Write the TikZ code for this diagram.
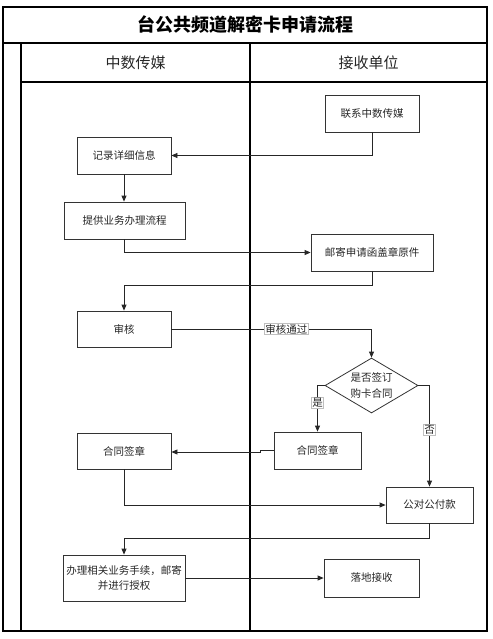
\documentclass[tikz,border=0pt]{standalone}
\usepackage{fontspec}
\setmainfont{Noto Sans CJK SC}
\usetikzlibrary{arrows.meta,shapes.geometric}
\begin{document}
\begin{tikzpicture}[x=1pt,y=-1pt,
  lane/.style={draw=black,line width=1.1pt},
  box/.style={draw=black!80,line width=0.8pt,rectangle,inner sep=1pt,align=center,
    font=\fontsize{10.5}{15.5}\selectfont,text=black!85},
  dec/.style={draw=black!80,line width=0.8pt,diamond,aspect=1.7,inner sep=0pt,align=center,
    font=\fontsize{10.5}{16}\selectfont,text=black!85},
  arr/.style={draw=black!85,line width=0.8pt,-{Triangle[length=6pt,width=5pt]}},
  lbl/.style={fill=white,draw=black!25,line width=0.4pt,inner sep=0.8pt,
    font=\fontsize{10.5}{12}\selectfont,text=black!85},
  head/.style={font=\fontsize{15}{18}\selectfont,text=black!85},
]
\useasboundingbox (0,0) rectangle (492,639);
% frame and lanes
\draw[lane] (3,7) rectangle (487,631);
\draw[lane] (3,43) -- (487,43);
\draw[lane] (21,43) -- (21,631);
\draw[lane] (21,82) -- (487,82);
\draw[lane] (250,43) -- (250,631);
\node[font=\fontsize{18}{20}\selectfont\bfseries] (title) at (245,25) {台公共频道解密卡申请流程};
\node[head] (h1) at (135.5,62.5) {中数传媒};
\node[head] (h2) at (368.5,62.5) {接收单位};
% boxes
\node[box,minimum width=94pt,minimum height=37pt] (lx) at (372,113.5) {联系中数传媒};
\node[box,minimum width=94pt,minimum height=37pt] (jl) at (124,155.5) {记录详细信息};
\node[box,minimum width=121pt,minimum height=37pt] (tg) at (124.5,220.5) {提供业务办理流程};
\node[box,minimum width=122pt,minimum height=37pt] (yj) at (372,252.5) {邮寄申请函盖章原件};
\node[box,minimum width=94pt,minimum height=36pt] (sh) at (124,329) {审核};
\node[dec,minimum width=93pt,minimum height=55pt] (dia) at (371.5,385.5) {是否签订\\购卡合同};
\node[box,minimum width=87pt,minimum height=37pt] (rsig) at (317.5,450.5) {合同签章};
\node[box,minimum width=94pt,minimum height=36pt] (lsig) at (124,451) {合同签章};
\node[box,minimum width=87pt,minimum height=36pt] (gd) at (429.5,505) {公对公付款};
\node[box,minimum width=122pt,minimum height=46pt] (bl) at (124,578) {办理相关业务手续，邮寄\\并进行授权};
\node[box,minimum width=95pt,minimum height=38pt] (ld) at (371.5,578) {落地接收};
% connectors
\draw[arr] (lx.south) |- (jl.east);
\draw[arr] (jl.south) -- (jl.south |- tg.north);
\draw[arr] (tg.south) |- (yj.west);
\draw[arr] (yj.south) -- ++(0,14) -| (sh.north);
\draw[arr] (sh.east) -| node[lbl,pos=0.287] (lpass) {审核通过} (dia.north);
\draw[arr] (dia.west) -| node[lbl,pos=0.69] (lyes) {是} (rsig.north);
\draw[arr] (dia.east) -| node[lbl,pos=0.72] (lno) {否} (gd.north);
\draw[arr] (rsig.west) -- ++(-13,0) |- ([yshift=-1pt]lsig.east);
\draw[arr] (lsig.south) |- (gd.west);
\draw[arr] (gd.south) -- ++(0,15) -| (bl.north);
\draw[arr] (bl.east) -- (ld.west);
\end{tikzpicture}
\end{document}
